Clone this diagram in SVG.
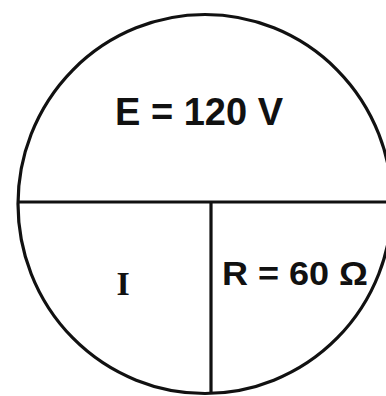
<svg xmlns="http://www.w3.org/2000/svg" width="386" height="396" viewBox="0 0 386 396">
<style>
.ln{fill:none;stroke:#111;stroke-width:3.2}
.sans{font-family:"Liberation Sans",Arial,sans-serif;font-weight:bold;fill:#111}
.serif{font-family:"Liberation Serif","Times New Roman",serif;font-weight:bold;fill:#111}
</style>
<rect width="386" height="396" fill="#fff"/>
<g id="circle"><ellipse class="ln" cx="205" cy="204" rx="187" ry="189.5"/></g>
<g id="connectors">
<line class="ln" x1="18" y1="202" x2="392" y2="202"/>
<line class="ln" x1="211" y1="202" x2="211" y2="393"/>
</g>
<g id="E"><text class="sans" x="115" y="125" font-size="38" textLength="168" lengthAdjust="spacingAndGlyphs">E = 120 V</text></g>
<g id="I"><text class="serif" x="123" y="295" font-size="34" text-anchor="middle">I</text></g>
<g id="R"><text class="sans" x="222" y="285" font-size="34" textLength="146" lengthAdjust="spacingAndGlyphs">R = 60 Ω</text></g>
</svg>
